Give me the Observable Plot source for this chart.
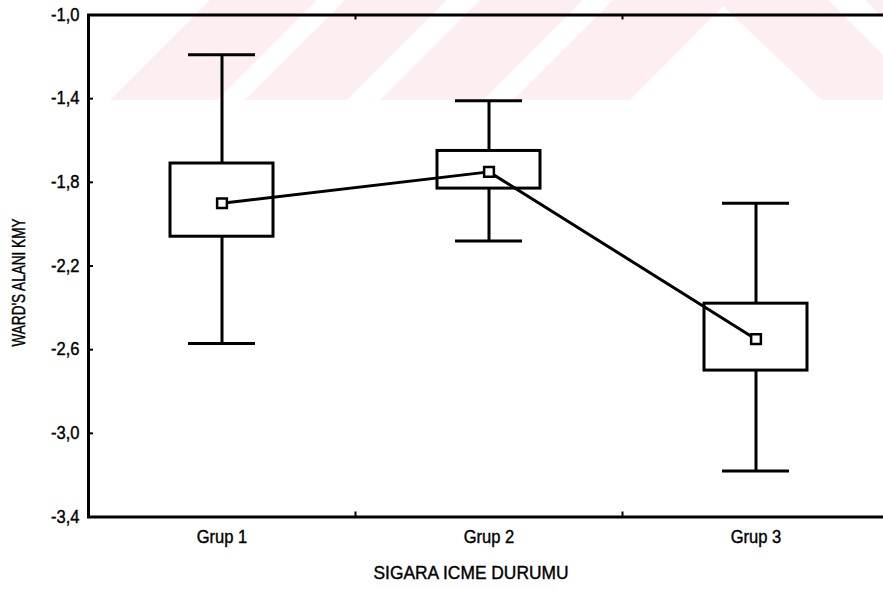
<!DOCTYPE html>
<html>
<head>
<meta charset="utf-8">
<script src="https://cdn.jsdelivr.net/npm/d3@7"></script>
<script src="https://cdn.jsdelivr.net/npm/@observablehq/plot@0.6"></script>
<style>
  html, body { margin: 0; padding: 0; background: #fff; overflow: hidden; }
  #wrap { position: relative; width: 883px; height: 589px; overflow: hidden; }
  #wm { position: absolute; left: 0; top: 0; }
  #chart { position: absolute; left: 0; top: 0; }
  #chart text { stroke: #000; stroke-width: 0.4px; }
</style>
</head>
<body>
<div id="wrap">
  <!-- faint watermark band behind the chart -->
  <svg id="wm" width="883" height="589">
    <defs><clipPath id="band"><rect x="0" y="0" width="883" height="100"/></clipPath></defs>
    <g clip-path="url(#band)" fill="#fdeef1">
      <polygon points="110,100 217,100 317,0 210,0"/>
      <polygon points="245,100 347,100 447,0 345,0"/>
      <polygon points="380,100 483,100 583,0 480,0"/>
      <polygon points="513,100 630,100 723,6 723,0 613,0"/>
      <polygon points="723,0 828,0 928,100 822,100 723,6"/>
      <polygon points="865,0 965,0 1065,100 965,100"/>
    </g>
  </svg>
  <div id="chart"></div>
</div>
<script>
// Groups and summary statistics of Ward's area (KMY)
const groups      = ["Grup 1", "Grup 2", "Grup 3"];
const means       = [-1.90, -1.75, -2.55];
const boxHigh     = [-1.71, -1.65, -2.38];
const boxLow      = [-2.06, -1.83, -2.70];
const whiskerHigh = [-1.19, -1.41, -1.90];
const whiskerLow  = [-2.57, -2.08, -3.18];
const yTicks      = [-3.4, -3.0, -2.6, -2.2, -1.8, -1.4, -1.0];

const yTitle = "WARD'S ALANI KMY";
const xTitle = "SIGARA ICME DURUMU";

const rows = groups.map((g, i) => ({
  group: g, mean: means[i],
  boxHigh: boxHigh[i], boxLow: boxLow[i],
  hi: whiskerHigh[i], lo: whiskerLow[i]
}));

const width = 889, height = 589;
const margin = {left: 88, right: 0, top: 14.5, bottom: 72.5};
const plotW = width - margin.left - margin.right;
const plotH = height - margin.top - margin.bottom;
const step = plotW / groups.length;
const lw = 3;
const fs = 18;
const fmt = d => d.toFixed(1).replace(".", ",");

const chart = Plot.plot({
  width, height,
  marginLeft: margin.left, marginRight: margin.right,
  marginTop: margin.top, marginBottom: margin.bottom,
  style: {background: "transparent", color: "#000", fontFamily: "'Liberation Sans', Arial, sans-serif", fontSize: fs + "px", maxWidth: "none"},
  x: {type: "band", domain: groups, padding: 0, label: null},
  y: {domain: [-3.4, -1.0], label: null},
  marks: [
    // tick labels
    Plot.axisY(yTicks, {tickSize: 0, tickPadding: 9, tickFormat: fmt, label: null, fontSize: fs}),
    Plot.axisX({tickSize: 0, tickPadding: 13, label: null, fontSize: fs}),
    // inward tick marks on the left edge
    Plot.tickY(yTicks, {y: d => d, insetRight: plotW - 5, stroke: "#000", strokeWidth: 2}),
    // tick marks at group boundaries, top and bottom
    Plot.tickX(groups.slice(1), {x: d => d, dx: -step / 2, insetBottom: plotH - 5, stroke: "#000", strokeWidth: 2}),
    Plot.tickX(groups.slice(1), {x: d => d, dx: -step / 2, insetTop: plotH - 5, stroke: "#000", strokeWidth: 2}),
    // whiskers and caps
    Plot.ruleX(rows, {x: "group", y1: "lo", y2: "hi", stroke: "#000", strokeWidth: lw}),
    Plot.tickY(rows, {x: "group", y: "hi", insetLeft: 100, insetRight: 100, stroke: "#000", strokeWidth: lw}),
    Plot.tickY(rows, {x: "group", y: "lo", insetLeft: 100, insetRight: 100, stroke: "#000", strokeWidth: lw}),
    // boxes
    Plot.barY(rows, {x: "group", y1: "boxLow", y2: "boxHigh", insetLeft: 82, insetRight: 82, fill: "#fff", stroke: "#000", strokeWidth: lw}),
    // line through the means
    Plot.line(rows, {x: "group", y: "mean", stroke: "#000", strokeWidth: lw}),
    Plot.dot(rows, {x: "group", y: "mean", symbol: "square", r: 5.5, fill: "#fff", stroke: "#000", strokeWidth: 2.5}),
    // frame
    Plot.frame({stroke: "#000", strokeWidth: 3}),
    // axis titles
    Plot.text([xTitle], {frameAnchor: "bottom", dy: 62, dx: -18, fontSize: fs, fill: "#000"}),
    Plot.text([yTitle], {frameAnchor: "left", textAnchor: "middle", rotate: -90, dx: -70, dy: 16.5, fontSize: 19, fill: "#000"})
  ]
});
document.getElementById("chart").appendChild(chart);

// labels are set in a slightly condensed width; the vertical title more so
d3.select(chart).selectAll("text").each(function() {
  const t = d3.select(this);
  const txt = this.textContent;
  const len = txt === yTitle ? 128
    : this.getComputedTextLength() * (txt === xTitle ? 0.965 : 0.92);
  t.attr("textLength", len).attr("lengthAdjust", "spacingAndGlyphs");
});
</script>
</body>
</html>
